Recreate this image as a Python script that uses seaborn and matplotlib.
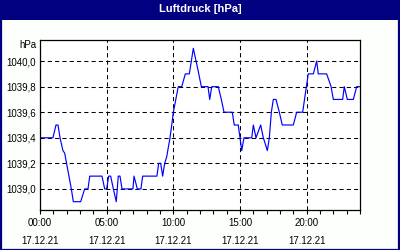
import matplotlib
matplotlib.use("Agg")
import matplotlib.pyplot as plt
import matplotlib.patches as mpatches
import seaborn as sns
import pandas as pd
from matplotlib.ticker import FixedLocator, MultipleLocator, FuncFormatter

# Data (hours since 00:00 on 17.12.21, pressure in hPa)
hours = [0.0, 0.97, 1.2, 1.35, 1.5, 1.72, 1.85, 2.35, 2.5, 3.05, 3.35, 3.6, 3.73, 4.65,
         4.85, 5.0, 5.15, 5.3, 5.5, 5.72, 5.87, 6.0, 6.15, 6.97, 7.05, 7.3, 7.57, 7.7,
         8.77, 8.9, 9.05, 9.2, 9.35, 9.5, 9.75, 9.88, 10.0, 10.13, 10.37, 10.63, 10.9,
         11.2, 11.5, 11.87, 12.1, 12.6, 12.73, 12.88, 13.37, 13.6, 13.8, 14.42, 14.57,
         14.87, 15.13, 15.3, 15.88, 16.0, 16.2, 16.55, 16.75, 17.05, 17.2, 17.35, 17.5,
         17.7, 17.95, 18.17, 19.0, 19.25, 19.7, 19.95, 20.12, 20.5, 20.75, 20.87, 21.5,
         21.83, 22.0, 22.7, 22.82, 23.05, 23.5, 23.75, 24.0]
pressure = [1039.4, 1039.4, 1039.5, 1039.5, 1039.4, 1039.3, 1039.28, 1039.0, 1038.9, 1038.9,
            1039.0, 1039.0, 1039.1, 1039.1, 1039.0, 1039.0, 1039.1, 1039.1, 1039.0, 1038.9,
            1039.1, 1039.1, 1039.0, 1039.0, 1039.1, 1039.0, 1039.0, 1039.1, 1039.1, 1039.2,
            1039.2, 1039.1, 1039.2, 1039.25, 1039.4, 1039.5, 1039.6, 1039.67, 1039.8, 1039.8,
            1039.9, 1039.9, 1040.1, 1039.92, 1039.8, 1039.8, 1039.7, 1039.8, 1039.8, 1039.7,
            1039.6, 1039.6, 1039.5, 1039.5, 1039.3, 1039.4, 1039.4, 1039.5, 1039.4, 1039.5,
            1039.4, 1039.3, 1039.4, 1039.6, 1039.7, 1039.7, 1039.6, 1039.5, 1039.5, 1039.6,
            1039.6, 1039.78, 1039.9, 1039.9, 1040.0, 1039.9, 1039.9, 1039.8, 1039.7, 1039.7,
            1039.8, 1039.7, 1039.7, 1039.8, 1039.8]
x_tick_hours = [0, 5, 10, 15, 20]
x_tick_labels = ["00:00\n17.12.21", "05:00\n17.12.21", "10:00\n17.12.21",
                 "15:00\n17.12.21", "20:00\n17.12.21"]
y_ticks = [1039.0, 1039.2, 1039.4, 1039.6, 1039.8, 1040.0]
title = "Luftdruck [hPa]"
unit = "hPa"

df = pd.DataFrame({"h": hours, "p": pressure})

sns.set_theme(style="white")
plt.rcParams["font.family"] = ["Liberation Sans", "DejaVu Sans"]

NAVY = "#000080"
BG = "#FCFFFC"

fig = plt.figure(figsize=(4, 2.5), dpi=100, facecolor=BG)
# title bar and border
fig.patches.append(mpatches.Rectangle((0, 230 / 250), 1, 20 / 250, transform=fig.transFigure,
                                      facecolor=NAVY, edgecolor="none", zorder=0))
fig.patches.append(mpatches.Rectangle((0.5 / 400, 0.5 / 250), 398.5 / 400, 240 / 250,
                                      transform=fig.transFigure, facecolor="none",
                                      edgecolor=NAVY, linewidth=1.6, zorder=0))
fig.text(0.5, 241.5 / 250, title, color="white", fontsize=8, fontweight="bold",
         ha="center", va="center")

ax = fig.add_axes([40 / 400, 40 / 250, 320 / 400, 170 / 250])
ax.set_facecolor("white")
sns.lineplot(data=df, x="h", y="p", ax=ax, color="#0000FF", linewidth=0.85)

ax.set_xlim(0, 24)
ax.set_ylim(1038.835, 1040.165)
ax.xaxis.set_major_locator(FixedLocator(x_tick_hours))
ax.xaxis.set_minor_locator(MultipleLocator(1))
ax.set_xticklabels(x_tick_labels, linespacing=1.9)
ax.set_yticks(y_ticks)
ax.yaxis.set_major_formatter(FuncFormatter(lambda v, p: f"{v:.1f}".replace(".", ",")))
ax.set_xlabel("")
ax.set_ylabel("")

ax.tick_params(axis="x", which="both", direction="out", length=3, width=0.8,
               color="black", bottom=True, labelsize=7, labelcolor="black", pad=3)
ax.tick_params(axis="y", which="both", length=0, labelsize=7, labelcolor="black", pad=3)

for s in ax.spines.values():
    s.set_visible(True)
    s.set_color("black")
    s.set_linewidth(0.9)

ax.grid(True, which="major", color="black", linestyle=(0, (4, 3)), linewidth=0.75)
ax.text(-3.5 / 320, 1 - 4.7 / 170, unit, transform=ax.transAxes, ha="right", va="center",
        fontsize=7, color="black")

fig.savefig("out.png", dpi=100, facecolor=BG)
